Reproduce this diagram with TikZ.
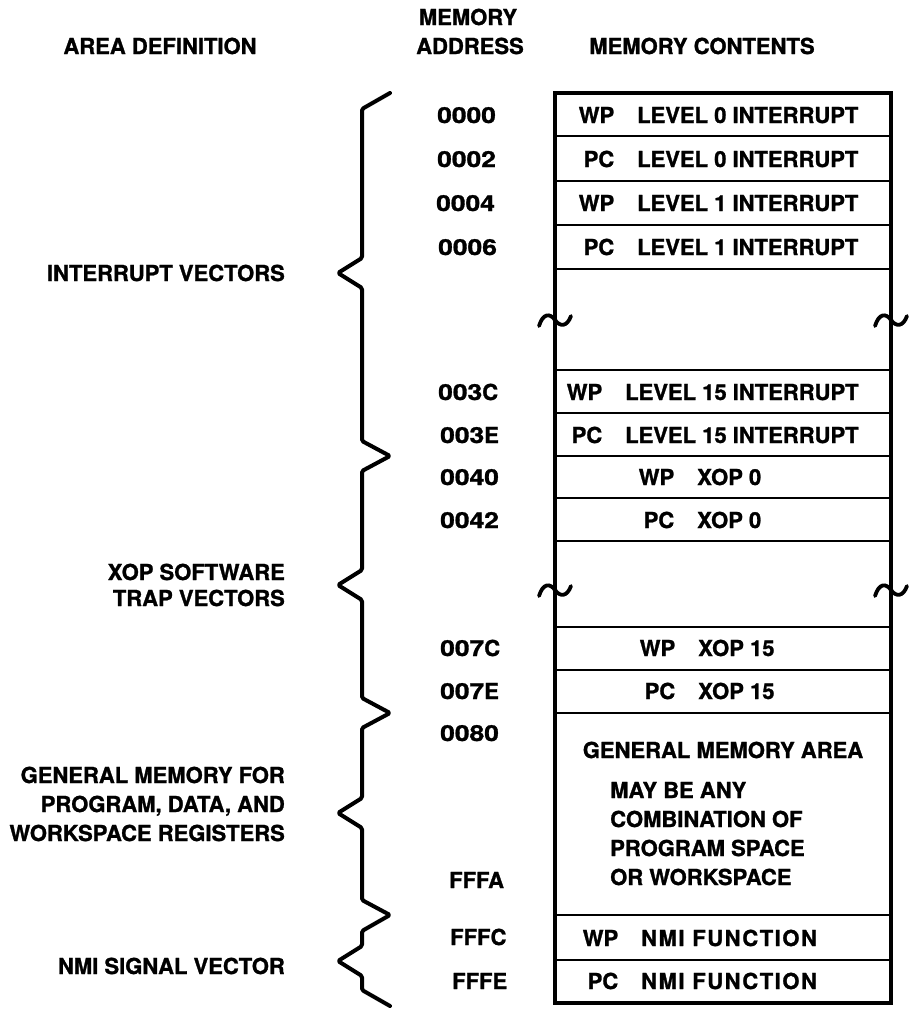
\documentclass[tikz,border=0pt]{standalone}
\usepackage{fontspec}
\setmainfont{TeX Gyre Heros}[BoldFeatures={FakeBold=1.2}]
\newcommand\dg[1]{\scalebox{1.2}[1]{#1}}
\newcommand\rw[2]{\makebox[35pt][r]{#1}\hspace{23pt}#2}
\newcommand\wide[1]{{\addfontfeature{LetterSpace=7}#1}}
\begin{document}
\begin{tikzpicture}[x=1pt,y=-1pt,
  txt/.style={font=\fontsize{22}{29}\selectfont\bfseries, inner sep=0pt},
  addr/.style={txt, anchor=base west},
  lbl/.style={txt, anchor=base east},
  head/.style={txt, anchor=base},
  cell/.style={txt, anchor=base west},
  brace/.style={line width=4pt, line join=round, line cap=round, rounded corners=1.5pt},
  frame/.style={line width=3.2pt},
  sep/.style={line width=2.8pt},
  brk/.style={line width=3.8pt, line cap=round}]
\useasboundingbox (0,0) rectangle (910,1012);

% headers
\node[head] (hArea) at (160,54) {AREA DEFINITION};
\node[head] (hMem) at (468,25) {MEMORY};
\node[head] (hAddr) at (470,54) {ADDRESS};
\node[head] (hCont) at (702,54) {MEMORY CONTENTS};

% memory frame
\coordinate (tl) at (555,93);
\coordinate (br) at (891,1003);
\draw[frame] (tl) rectangle (br);
\foreach \y in {136,181,225,269,370,413,456,498,541,627,670,713,915,960}
  \draw[sep] (555,\y) -- (891,\y);

% break marks
\foreach \x/\y in {555/320,891/320,555/590,891/590}
  \draw[brk] ({\x-16},{\y+6}) .. controls ({\x-12},{\y-7}) and ({\x-5},{\y-7}) .. (\x,\y)
             .. controls ({\x+5},{\y+7}) and ({\x+12},{\y+7}) .. ({\x+16},{\y-4});

% addresses
\node[addr] (a0000) at (437,123) {\dg{0000}};
\node[addr] (a0002) at (437,167) {\dg{0002}};
\node[addr] (a0004) at (436,211) {\dg{0004}};
\node[addr] (a0006) at (438,255) {\dg{0006}};
\node[addr] (a003C) at (438,400) {\dg{003}C};
\node[addr] (a003E) at (440,443) {\dg{003}E};
\node[addr] (a0040) at (440,485) {\dg{0040}};
\node[addr] (a0042) at (440,528) {\dg{0042}};
\node[addr] (a007C) at (440,656) {\dg{007}C};
\node[addr] (a007E) at (440,699) {\dg{007}E};
\node[addr] (a0080) at (440,741) {\dg{0080}};
\node[addr] (aFFFA) at (449,888) {FFFA};
\node[addr] (aFFFC) at (450,945) {FFFC};
\node[addr] (aFFFE) at (452,989) {FFFE};

% memory contents
\node[cell] (c0000) at (579,123) {\rw{WP}{LEVEL 0 INTERRUPT}};
\node[cell] (c0002) at (579,167) {\rw{PC}{LEVEL 0 INTERRUPT}};
\node[cell] (c0004) at (579,211) {\rw{WP}{LEVEL 1 INTERRUPT}};
\node[cell] (c0006) at (579,255) {\rw{PC}{LEVEL 1 INTERRUPT}};
\node[cell] (c003C) at (567,400) {\rw{WP}{LEVEL 15 INTERRUPT}};
\node[cell] (c003E) at (567,443) {\rw{PC}{LEVEL 15 INTERRUPT}};
\node[cell] (c0040) at (639,485) {\rw{WP}{XOP 0}};
\node[cell] (c0042) at (639,528) {\rw{PC}{XOP 0}};
\node[cell] (c007C) at (640,656) {\rw{WP}{XOP 15}};
\node[cell] (c007E) at (640,699) {\rw{PC}{XOP 15}};
\node[txt, anchor=base] (cGen) at (723,758) {GENERAL MEMORY AREA};
\node[cell] (cMay1) at (610,798) {MAY BE ANY};
\node[cell] (cMay2) at (610,827) {COMBINATION OF};
\node[cell] (cMay3) at (610,856) {PROGRAM SPACE};
\node[cell] (cMay4) at (610,885) {OR WORKSPACE};
\node[cell] (cFFFC) at (583,946) {\rw{WP}{\wide{NMI FUNCTION}}};
\node[cell] (cFFFE) at (583,989) {\rw{PC}{\wide{NMI FUNCTION}}};

% area labels
\node[lbl] (lInt) at (285,281) {INTERRUPT VECTORS};
\node[lbl] (lXop1) at (285,580) {XOP SOFTWARE};
\node[lbl] (lXop2) at (285,606) {TRAP VECTORS};
\node[lbl] (lGen1) at (285,783) {GENERAL MEMORY FOR};
\node[lbl] (lGen2) at (285,812) {PROGRAM, DATA, AND};
\node[lbl] (lGen3) at (285,841) {WORKSPACE REGISTERS};
\node[lbl] (lNmi) at (285,974) {NMI SIGNAL VECTOR};

% braces
\draw[brace] (390,93) -- (362,109) -- (362,258) -- (338,273) -- (362,288) -- (362,441)
  -- (390,456) -- (362,471) -- (362,570) -- (338,585) -- (362,600) -- (362,698)
  -- (390,713) -- (362,728) -- (362,798) -- (338,813) -- (362,828) -- (362,900)
  -- (390,915) -- (362,931) -- (362,946) -- (338,961) -- (362,976) -- (362,990)
  -- (390,1006);
\end{tikzpicture}
\end{document}
